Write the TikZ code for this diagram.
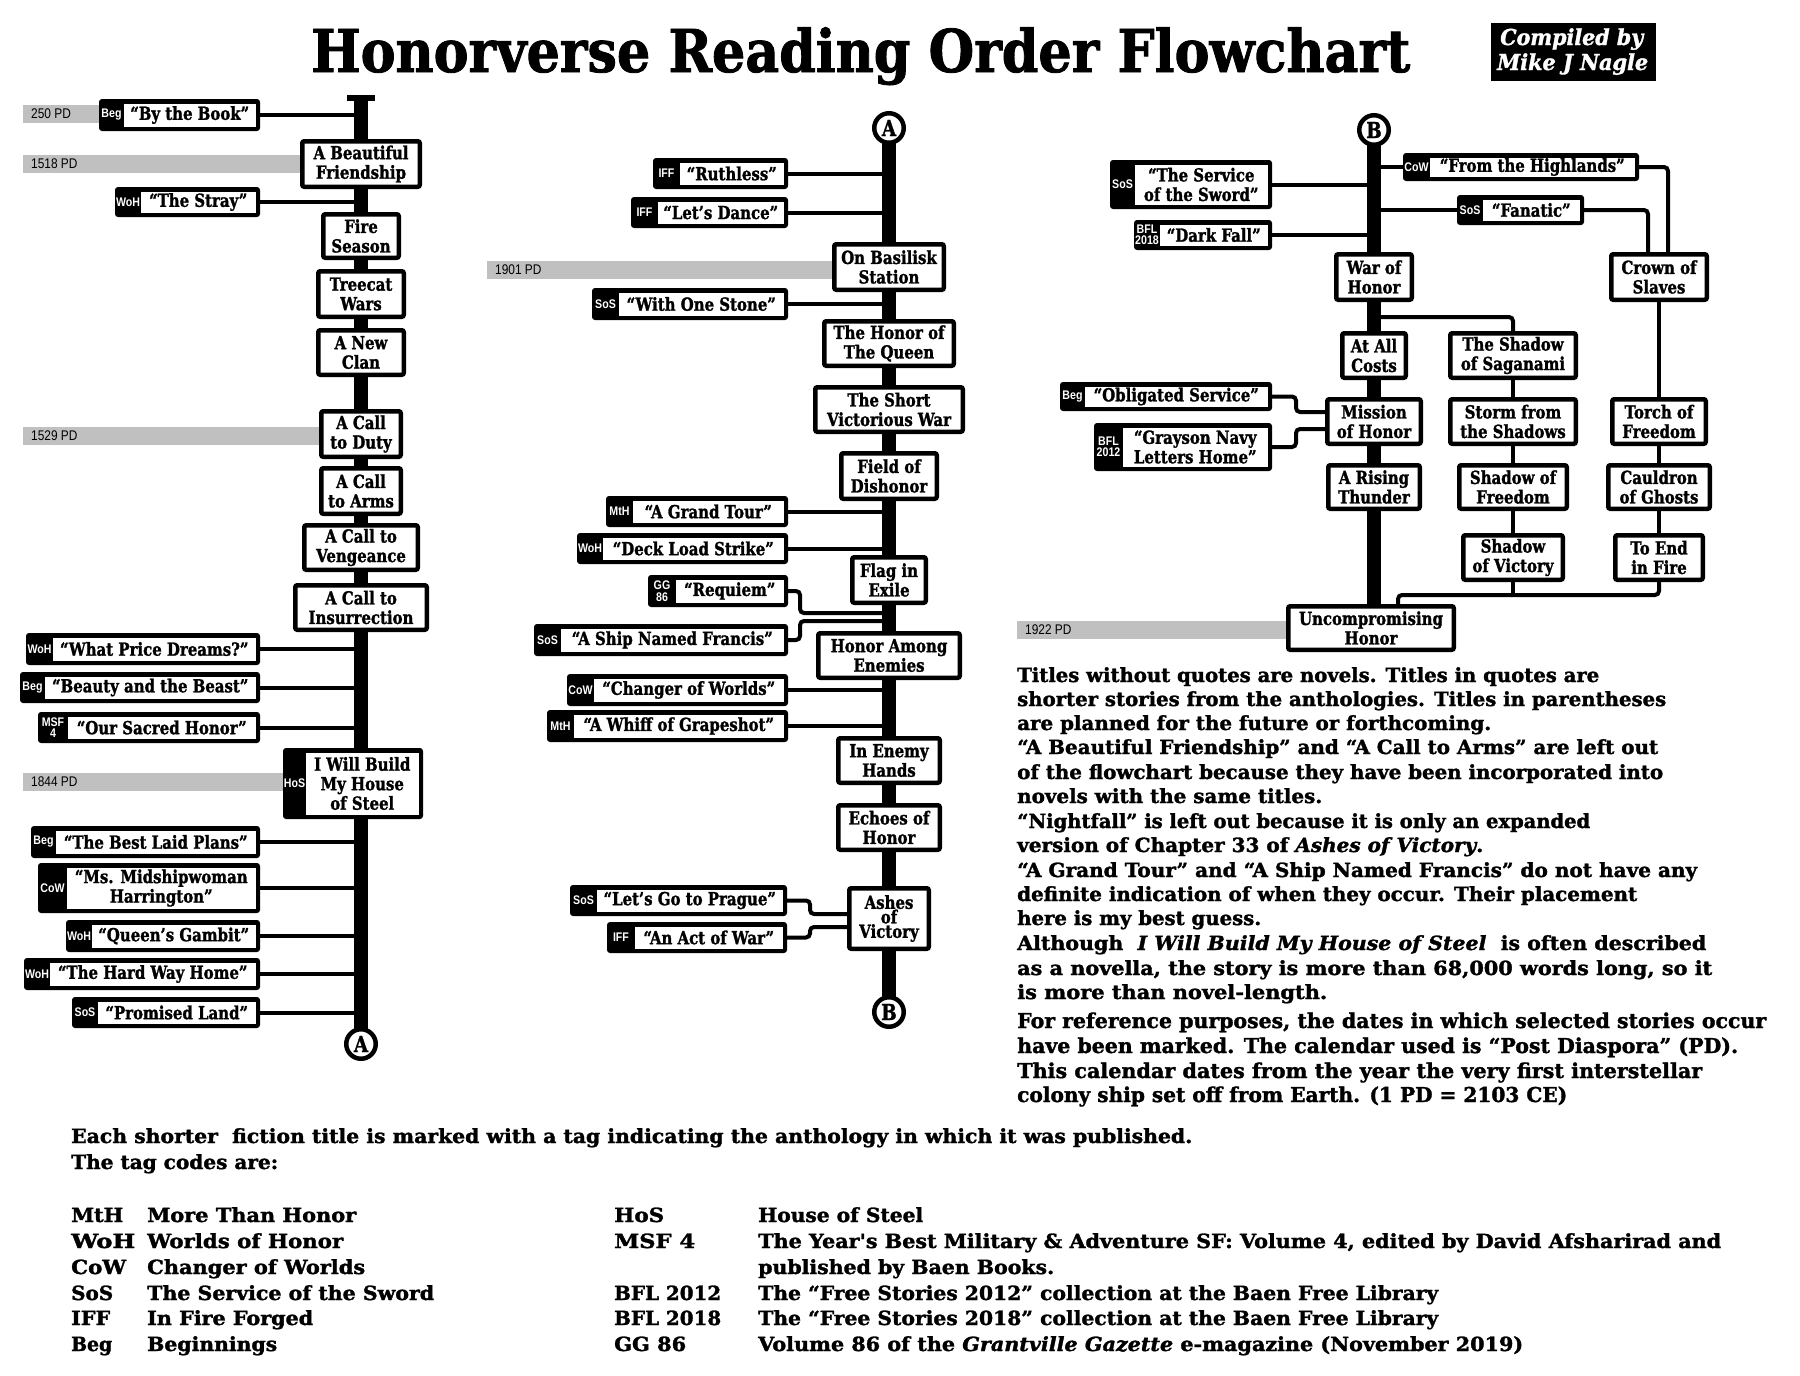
\documentclass[tikz,border=0pt]{standalone}
\usepackage{fontspec}
\usepackage{graphicx}
\setmainfont{DejaVu Serif}
\newfontfamily\gb[FakeStretch=0.83,FakeBold=1.4]{DejaVu Serif}
\newfontfamily\tagf[FakeStretch=0.85]{Liberation Sans}
\newfontfamily\datef[FakeStretch=0.85]{Liberation Sans}
\definecolor{barcol}{RGB}{192,192,192}
\pgfdeclarelayer{back}
\pgfdeclarelayer{bg}
\pgfsetlayers{back,bg,main}
\newcommand\fitw[2]{\resizebox{#1pt}{\height}{#2}}
\tikzset{
  novel/.style={draw=black, line width=4.5pt, fill=white, rounded corners=2pt, inner sep=0pt, align=center, font=\gb\bfseries\fontsize{18}{19.5}\selectfont},
  sblack/.style={fill=black, rounded corners=3pt, inner sep=0pt},
  swhite/.style={fill=white, inner sep=0pt, align=center, font=\gb\bfseries\fontsize{18}{19.5}\selectfont},
  tagtext/.style={text=white, inner sep=0pt, align=center, font=\tagf\bfseries\fontsize{12.5}{11.5}\selectfont},
  link/.style={draw=black, line width=4pt, rounded corners=4pt},
  spine/.style={draw=black, line width=14pt},
  datebar/.style={fill=barcol, inner sep=0pt, anchor=north west},
  datetext/.style={font=\datef\fontsize{14}{14}\selectfont, inner sep=0pt, anchor=west},
  circ/.style={circle, draw=black, line width=4.5pt, fill=white, minimum size=29.5pt, inner sep=0pt, font=\gb\bfseries\fontsize{22}{22}\selectfont},
  notetext/.style={inner sep=0pt, anchor=base west, font=\gb\bfseries\fontsize{19.5}{24}\selectfont},
  notetextb/.style={inner sep=0pt, anchor=base west, font=\gb\bfseries\fontsize{20.5}{24}\selectfont},
  legtext/.style={inner sep=0pt, anchor=base west, font=\gb\bfseries\fontsize{19.5}{24}\selectfont},
}
\newcommand\novel[6]{\node[novel, minimum width={#4-#2-4.5}, minimum height={#5-#3-4.5}] (#1) at ({(#2+#4)/2},{(#3+#5)/2}) {#6};}
\newcommand\story[8]{%
 \node[sblack, minimum width={#4-#2}, minimum height={#5-#3}] (#1) at ({(#2+#4)/2},{(#3+#5)/2}) {};
 \node[swhite, minimum width={#4-#2-#6-4.5}, minimum height={#5-#3-9}] (#1t) at ({(#2+#6+#4-4.5)/2},{(#3+#5)/2}) {#8};
 \node[tagtext] (#1g) at ({#2+#6/2},{(#3+#5)/2}) {#7};}
\newcommand\datebar[5]{%
 \node[datebar, minimum width={#4-#2}, minimum height=17.5] (#1) at (#2,#3) {};
 \node[datetext] (#1l) at ([xshift=8pt]#1.west) {#5};}
\newcommand\nl[4]{\node[notetext] (#1) at (1017,#2) {\fitw{#3}{#4}};}
\newcommand\nlb[4]{\node[notetextb] (#1) at (1017,#2) {\fitw{#3}{#4}};}
\newcommand\legl[5]{\node[legtext] (#1) at (#2,#3) {\fitw{#4}{#5}};}
\begin{document}
\begin{tikzpicture}[x=1pt,y=-1pt]
\begin{pgfonlayer}{back}
\useasboundingbox[fill=white] (0,0) rectangle (1800,1376);
\end{pgfonlayer}

% title
\node[inner sep=0pt, anchor=base west, font=\gb\bfseries\fontsize{59}{60}\selectfont] (title) at (311,72) {\fitw{1099}{Honorverse Reading Order Flowchart}};
\node[fill=black, minimum width=165, minimum height=58, inner sep=0pt, anchor=north west] (comp) at (1491,23) {};
\node[text=white, inner sep=0pt, anchor=base west, font=\gb\bfseries\itshape\fontsize{22}{25}\selectfont] (comp1) at (1500,45) {\fitw{143}{Compiled by}};
\node[text=white, inner sep=0pt, anchor=base west, font=\gb\bfseries\itshape\fontsize{22}{25}\selectfont] (comp2) at (1497,70) {\fitw{151}{Mike J Nagle}};

% date bars
\datebar{d250}{23}{105}{102}{250 PD}
\datebar{d1518}{23}{155}{302}{1518 PD}
\datebar{d1529}{23}{427}{322}{1529 PD}
\datebar{d1844}{23}{773}{286}{1844 PD}
\datebar{d1901}{487}{261}{836}{1901 PD}
\datebar{d1922}{1017}{621}{1289}{1922 PD}

% left column novels
\novel{abf}{300}{139}{422}{189}{A Beautiful\\Friendship}
\novel{fire}{321}{212}{401}{260}{Fire\\Season}
\novel{treecat}{316}{269}{406}{319}{Treecat\\Wars}
\novel{clan}{316}{328}{406}{377}{A New\\Clan}
\novel{duty}{319}{409}{403}{459}{A Call\\to Duty}
\novel{arms}{319}{466}{403}{516}{A Call\\to Arms}
\novel{veng}{302}{523}{420}{572}{A Call to\\Vengeance}
\novel{insur}{293}{583}{429}{632}{A Call to\\Insurrection}

% left column stories
\story{book}{99}{99}{260}{131}{25}{Beg}{“By the Book”}
\story{stray}{115}{187}{260}{217}{26}{WoH}{“The Stray”}
\story{wpd}{26}{633}{260}{665}{27}{WoH}{“What Price Dreams?”}
\story{beauty}{20}{672}{260}{703}{25}{Beg}{“Beauty and the Beast”}
\story{osh}{38}{712}{260}{743}{30}{MSF\\4}{“Our Sacred Honor”}
\story{hos}{283}{748}{423}{819}{23}{HoS}{I Will Build\\My House\\of Steel}
\story{blp}{31}{826}{260}{858}{25}{Beg}{“The Best Laid Plans”}
\story{msh}{38}{863}{260}{913}{29}{CoW}{“Ms. Midshipwoman\\Harrington”}
\story{qg}{66}{920}{260}{952}{26}{WoH}{“Queen’s Gambit”}
\story{hwh}{24}{958}{260}{990}{26}{WoH}{“The Hard Way Home”}
\story{pl}{72}{997}{260}{1028}{26}{SoS}{“Promised Land”}

% middle column novels
\novel{obs}{832}{242}{946}{292}{On Basilisk\\Station}
\novel{hotq}{822}{319}{956}{368}{The Honor of\\The Queen}
\novel{svw}{813}{385}{965}{434}{The Short\\Victorious War}
\novel{fod}{839}{451}{939}{501}{Field of\\Dishonor}
\novel{fie}{850}{555}{928}{605}{Flag in\\Exile}
\novel{hae}{816}{631}{962}{680}{Honor Among\\Enemies}
\novel{ieh}{836}{736}{942}{785}{In Enemy\\Hands}
\novel{eoh}{836}{803}{942}{852}{Echoes of\\Honor}
\node[novel, font=\gb\bfseries\fontsize{18}{14.5}\selectfont, minimum width=79.5, minimum height=60.5] (aov) at (889,918.5) {Ashes\\of\\Victory};

% middle column stories
\story{ruth}{653}{158}{788}{189}{27}{IFF}{“Ruthless”}
\story{dance}{631}{197}{788}{228}{27}{IFF}{“Let’s Dance”}
\story{stone}{592}{288}{788}{320}{27}{SoS}{“With One Stone”}
\story{tour}{606}{496}{788}{527}{27}{MtH}{“A Grand Tour”}
\story{deck}{577}{533}{788}{564}{26}{WoH}{“Deck Load Strike”}
\story{req}{648}{575}{788}{607}{28}{GG\\86}{“Requiem”}
\story{ship}{534}{624}{788}{656}{27}{SoS}{“A Ship Named Francis”}
\story{cow}{567}{674}{788}{706}{27}{CoW}{“Changer of Worlds”}
\story{whiff}{547}{710}{788}{742}{27}{MtH}{“A Whiff of Grapeshot”}
\story{prague}{570}{885}{787}{916}{27}{SoS}{“Let’s Go to Prague”}
\story{war}{607}{922}{787}{953}{28}{IFF}{“An Act of War”}

% right part novels
\novel{woh}{1334}{252}{1414}{302}{War of\\Honor}
\novel{aac}{1340}{331}{1408}{380}{At All\\Costs}
\novel{moh}{1325}{397}{1423}{446}{Mission\\of Honor}
\novel{art}{1326}{463}{1422}{511}{A Rising\\Thunder}
\novel{uh}{1286}{604}{1456}{652}{Uncompromising\\Honor}
\novel{sag}{1448}{331}{1578}{380}{The Shadow\\of Saganami}
\novel{sfs}{1448}{397}{1578}{446}{Storm from\\the Shadows}
\novel{sof}{1457}{463}{1569}{511}{Shadow of\\Freedom}
\novel{sov}{1461}{533}{1565}{582}{Shadow\\of Victory}
\novel{crown}{1609}{252}{1709}{302}{Crown of\\Slaves}
\novel{tof}{1610}{397}{1708}{446}{Torch of\\Freedom}
\novel{cog}{1606}{463}{1712}{511}{Cauldron\\of Ghosts}
\novel{teif}{1613}{533}{1705}{582}{To End\\in Fire}

% right part stories
\story{service}{1110}{160}{1272}{209}{25}{SoS}{“The Service\\of the Sword”}
\story{dark}{1134}{220}{1272}{250}{26}{BFL\\2018}{“Dark Fall”}
\story{high}{1403}{153}{1639}{181}{27}{CoW}{“From the Highlands”}
\story{fan}{1457}{195}{1584}{225}{26}{SoS}{“Fanatic”}
\story{obl}{1060}{382}{1272}{411}{25}{Beg}{“Obligated Service”}
\story{gray}{1094}{423}{1272}{471}{29}{BFL\\2012}{“Grayson Navy\\Letters Home”}

% circles
\node[circ] (cA1) at (361,1044) {A};
\node[circ] (cA2) at (889,128) {A};
\node[circ] (cB1) at (889,1012) {B};
\node[circ] (cB2) at (1374,130) {B};

% coordinates
\coordinate (sL) at (361,0);
\coordinate (sM) at (889,0);
\coordinate (sR) at (1374,0);
\coordinate (sLtop) at (361,97);
\coordinate (tb1) at (347,98);
\coordinate (tb2) at (375,98);
\coordinate (rq1) at (800,613);
\coordinate (sh1) at (800,621);
\coordinate (pg1) at (810,914);
\coordinate (aw1) at (810,927);
\coordinate (hx) at (1668,0);
\coordinate (fx) at (1648,0);
\coordinate (br) at (1513,317);
\coordinate (mg) at (1398,595);
\coordinate (ob1) at (1296,412);
\coordinate (gn1) at (1296,429);

\begin{pgfonlayer}{bg}
\draw[spine] (sLtop) -- (cA1.center);
\draw[line width=6pt] (tb1) -- (tb2);
\draw[spine] (cA2.center) -- (cB1.center);
\draw[spine] (cB2.center) -- (sR |- uh.center);
\foreach \n in {book,stray,wpd,beauty,osh,blp,msh,qg,hwh,pl} \draw[link] (\n.east) -- (\n.east -| sL);
\foreach \n in {ruth,dance,stone,tour,deck,cow,whiff} \draw[link] (\n.east) -- (\n.east -| sM);
\draw[link] (req.east) -| (rq1) -- (rq1 -| sM);
\draw[link] (ship.east) -| (sh1) -- (sh1 -| sM);
\draw[link] (prague.east) -| (pg1) -- (pg1 -| aov.west);
\draw[link] (war.east) -| (aw1) -- (aw1 -| aov.west);
\foreach \n in {service,dark} \draw[link] (\n.east) -- (\n.east -| sR);
\draw[link] (sR |- high.west) -- (high.west);
\draw[link] (sR |- fan.west) -- (fan.west);
\draw[link] (high.east) -| (crown.north -| hx);
\draw[link] (fan.east) -| (crown.north -| fx);
\draw[link] (sR |- br) -| (sag.north);
\draw[link] (sag.south) -- (sfs.north);
\draw[link] (sfs.south) -- (sof.north);
\draw[link] (sof.south) -- (sov.north);
\draw[link] (crown.south) -- (tof.north);
\draw[link] (tof.south) -- (cog.north);
\draw[link] (cog.south) -- (teif.north);
\draw[link] (teif.south) |- (mg) -- (mg |- uh.north);
\draw[link] (sov.south) -- (sov.south |- mg);
\draw[link] (obl.east) -| (ob1) -- (ob1 -| moh.west);
\draw[link] (gray.east) -| (gn1) -- (gn1 -| moh.west);
\end{pgfonlayer}

% notes
\nl{n1}{682}{582}{Titles without quotes are novels. Titles in quotes are}
\nl{n2}{706}{649}{shorter stories from the anthologies. Titles in parentheses}
\nl{n3}{730}{474}{are planned for the future or forthcoming.}
\nl{n4}{754}{641}{“A Beautiful Friendship” and “A Call to Arms” are left out}
\nl{n5}{779}{646}{of the flowchart because they have been incorporated into}
\nl{n6}{803}{305}{novels with the same titles.}
\nl{n7}{828}{573}{“Nightfall” is left out because it is only an expanded}
\nl{n8}{852}{466}{version of Chapter 33 of {\itshape Ashes of Victory}.}
\nl{n9}{877}{680}{“A Grand Tour” and “A Ship Named Francis” do not have any}
\nl{n10}{901}{620}{definite indication of when they occur. Their placement}
\nl{n11}{925}{244}{here is my best guess.}
\nl{n12}{950}{689}{Although\ \ {\itshape I Will Build My House of Steel}\ \ is often described}
\nl{n13}{975}{695}{as a novella, the story is more than 68,000 words long, so it}
\nl{n14}{999}{310}{is more than novel-length.}
\nlb{n15}{1028}{749}{For reference purposes, the dates in which selected stories occur}
\nlb{n16}{1053}{721}{have been marked. The calendar used is “Post Diaspora” (PD).}
\nlb{n17}{1078}{685}{This calendar dates from the year the very first interstellar}
\nlb{n18}{1102}{550}{colony ship set off from Earth. (1 PD = 2103 CE)}

% legend
\legl{leg1}{71}{1143}{1121}{Each shorter\ \ fiction title is marked with a tag indicating the anthology in which it was published.}
\legl{leg2}{71}{1169}{207}{The tag codes are:}
\legl{c1}{71}{1222}{52}{MtH}
\legl{c2}{71}{1248}{64}{WoH}
\legl{c3}{71}{1274}{55}{CoW}
\legl{c4}{71}{1300}{42}{SoS}
\legl{c5}{71}{1325}{39}{IFF}
\legl{c6}{71}{1351}{41}{Beg}
\legl{m1}{147}{1222}{209}{More Than Honor}
\legl{m2}{147}{1248}{196}{Worlds of Honor}
\legl{m3}{147}{1274}{218}{Changer of Worlds}
\legl{m4}{147}{1300}{287}{The Service of the Sword}
\legl{m5}{147}{1325}{166}{In Fire Forged}
\legl{m6}{147}{1351}{130}{Beginnings}
\legl{k1}{614}{1222}{50}{HoS}
\legl{k2}{614}{1248}{81}{MSF 4}
\legl{k4}{614}{1300}{107}{BFL 2012}
\legl{k5}{614}{1325}{107}{BFL 2018}
\legl{k6}{614}{1351}{72}{GG 86}
\legl{e1}{758}{1222}{165}{House of Steel}
\legl{e2}{758}{1248}{963}{The Year's Best Military \& Adventure SF: Volume 4, edited by David Afsharirad and}
\legl{e3}{758}{1274}{296}{published by Baen Books.}
\legl{e4}{758}{1300}{680}{The “Free Stories 2012” collection at the Baen Free Library}
\legl{e5}{758}{1325}{680}{The “Free Stories 2018” collection at the Baen Free Library}
\legl{e6}{758}{1351}{765}{Volume 86 of the {\itshape Grantville Gazette} e-magazine (November 2019)}
\end{tikzpicture}
\end{document}
